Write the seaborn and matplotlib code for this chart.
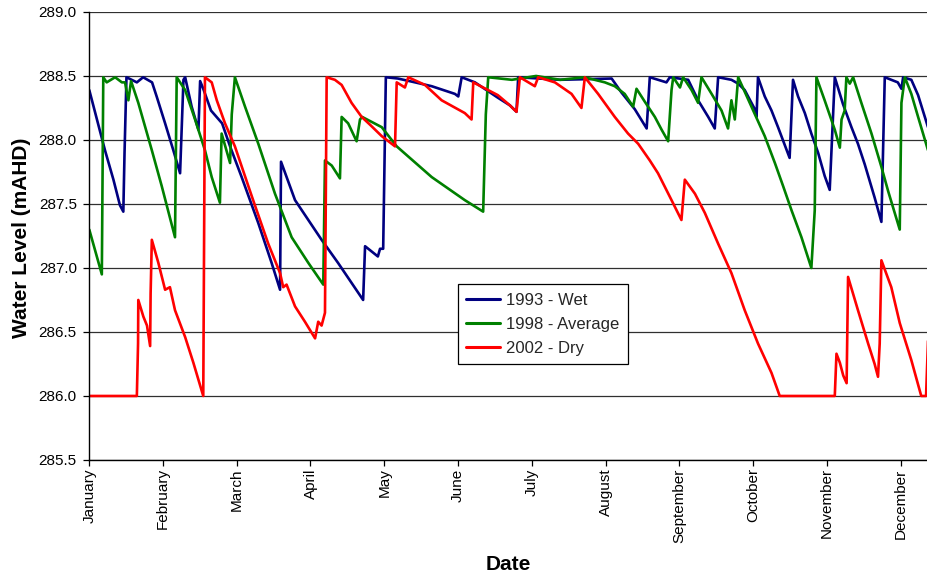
import matplotlib
matplotlib.use("Agg")
import matplotlib.pyplot as plt
import seaborn as sns
import pandas as pd

# ---- data (x = day of year, y = water level mAHD) ----
wet_days = [0, 6.5, 10.0, 12.7, 14.1, 14.6, 15.4, 19.7, 22.3, 26.0, 27.9, 31.4, 34.8, 37.6,
            39.0, 39.7, 42.4, 45.2, 45.9, 47.2, 50.4, 55.0, 58.3, 63.1, 70.0, 75.5, 79.0,
            79.4, 85.2, 96.2, 103.0, 113.4, 114.2, 119.5, 120.4, 121.7, 122.8, 127.8, 134.9,
            141.8, 151.4, 152.8, 154.2, 159.7, 169.2, 174.2, 176.9, 177.6, 194.9, 216.3,
            220.4, 225.9, 230.8, 232.1, 239.0, 240.4, 248.0, 252.1, 256.3, 259.0, 260.4,
            265.9, 268.7, 271.4, 275.6, 276.3, 276.9, 279.7, 282.5, 285.2, 290.0, 291.4,
            293.5, 296.3, 299.0, 301.8, 304.5, 306.6, 308.7, 312.1, 315.6, 318.3, 321.1,
            325.2, 328.0, 329.4, 334.8, 336.3, 337.0, 340.4, 343.2, 347.3]
wet_level = [288.39, 287.92, 287.69, 287.49, 287.44, 287.90, 288.49, 288.45, 288.49, 288.45,
             288.34, 288.13, 287.92, 287.74, 288.47, 288.49, 288.26, 288.08, 288.46, 288.40,
             288.23, 288.13, 287.95, 287.71, 287.35, 287.04, 286.83, 287.83, 287.53, 287.22,
             287.04, 286.75, 287.17, 287.09, 287.15, 287.15, 288.49, 288.48, 288.45, 288.42,
             288.36, 288.34, 288.49, 288.45, 288.33, 288.27, 288.22, 288.49, 288.47, 288.48,
             288.37, 288.24, 288.09, 288.49, 288.45, 288.49, 288.47, 288.31, 288.18, 288.09,
             288.49, 288.47, 288.44, 288.39, 288.24, 288.18, 288.49, 288.34, 288.23, 288.10,
             287.86, 288.47, 288.34, 288.21, 288.05, 287.90, 287.72, 287.61, 288.49, 288.28,
             288.10, 287.97, 287.81, 287.55, 287.36, 288.49, 288.45, 288.40, 288.49, 288.47,
             288.35, 288.10]

avg_days = [0, 5.2, 5.8, 7.2, 10.7, 13.5, 14.8, 16.2, 17.3, 20.3, 25.9, 30.0, 35.5, 36.2,
            39.7, 43.8, 47.9, 50.7, 54.1, 54.8, 58.3, 59.0, 60.3, 64.5, 70.0, 76.9, 83.8,
            90.7, 96.9, 97.6, 100.4, 103.8, 104.5, 107.2, 110.7, 112.1, 113.0, 121.1, 127.3,
            141.8, 155.5, 163.1, 164.2, 165.2, 175.0, 185.0, 195.0, 205.0, 213.5, 217.6,
            221.7, 225.2, 226.6, 230.0, 234.2, 237.0, 239.7, 241.1, 241.8, 244.6, 245.9,
            249.4, 252.1, 253.5, 257.7, 261.8, 264.5, 265.9, 267.3, 268.7, 274.2, 279.7,
            283.9, 287.3, 290.8, 294.9, 299.0, 300.4, 301.1, 304.5, 308.7, 310.8, 311.5,
            312.8, 313.5, 314.9, 316.3, 319.7, 323.9, 328.0, 330.8, 335.6, 336.3, 337.7,
            340.4, 343.2, 347.3]
avg_level = [287.30, 286.95, 288.49, 288.45, 288.49, 288.45, 288.45, 288.31, 288.46, 288.29,
             287.92, 287.64, 287.24, 288.49, 288.39, 288.16, 287.92, 287.71, 287.51, 288.05,
             287.82, 288.20, 288.49, 288.26, 287.97, 287.58, 287.24, 287.04, 286.87, 287.84,
             287.80, 287.70, 288.18, 288.13, 287.99, 288.16, 288.18, 288.10, 287.95, 287.71,
             287.53, 287.44, 288.20, 288.49, 288.47, 288.50, 288.47, 288.49, 288.45, 288.42,
             288.36, 288.26, 288.40, 288.30, 288.18, 288.08, 287.99, 288.39, 288.49, 288.41,
             288.49, 288.39, 288.29, 288.49, 288.36, 288.23, 288.09, 288.31, 288.16, 288.49,
             288.26, 288.03, 287.82, 287.64, 287.45, 287.24, 287.00, 287.45, 288.49, 288.31,
             288.08, 287.94, 288.16, 288.23, 288.49, 288.44, 288.49, 288.29, 288.05, 287.79,
             287.60, 287.30, 288.29, 288.49, 288.36, 288.18, 287.92]

dry_days = [0, 19.7, 20.2, 20.3, 22.4, 23.9, 25.2, 25.4, 25.9, 28.6, 31.4, 33.4, 35.5, 39.7,
            43.1, 47.2, 47.9, 50.7, 52.8, 56.2, 60.3, 67.3, 74.1, 79.0, 80.3, 81.7, 85.2,
            89.3, 93.5, 94.8, 96.2, 97.6, 98.3, 101.7, 104.5, 108.6, 112.8, 116.2, 121.1,
            126.6, 127.3, 130.7, 132.1, 139.0, 145.9, 155.5, 158.3, 159.0, 169.2, 174.2,
            176.9, 178.3, 184.5, 185.9, 192.8, 199.7, 203.8, 205.2, 210.7, 217.6, 223.1,
            227.3, 232.1, 235.5, 241.1, 245.2, 246.6, 250.8, 254.9, 260.4, 265.9, 271.4,
            276.9, 282.5, 285.9, 308.7, 309.4, 310.8, 312.2, 313.6, 314.2, 318.3, 322.5,
            325.2, 326.6, 327.3, 328.0, 332.1, 335.6, 340.4, 344.5, 346.5, 347.3]
dry_level = [286.00, 286.00, 286.41, 286.75, 286.62, 286.55, 286.39, 286.80, 287.22, 287.04,
             286.83, 286.85, 286.67, 286.46, 286.26, 286.00, 288.49, 288.45, 288.31, 288.13,
             287.95, 287.56, 287.19, 286.96, 286.85, 286.87, 286.70, 286.58, 286.45, 286.58,
             286.55, 286.65, 288.49, 288.47, 288.43, 288.29, 288.18, 288.12, 288.03, 287.95,
             288.45, 288.41, 288.49, 288.43, 288.31, 288.21, 288.16, 288.45, 288.35, 288.27,
             288.22, 288.49, 288.42, 288.49, 288.45, 288.36, 288.25, 288.49, 288.36, 288.18,
             288.05, 287.97, 287.84, 287.74, 287.53, 287.375, 287.69, 287.58, 287.43, 287.19,
             286.96, 286.67, 286.41, 286.18, 286.00, 286.00, 286.33, 286.26, 286.16, 286.10,
             286.93, 286.67, 286.41, 286.25, 286.15, 286.41, 287.06, 286.85, 286.57, 286.28,
             286.00, 286.00, 286.43]

series_names = ["1993 - Wet", "1998 - Average", "2002 - Dry"]
series_colors = ["#000080", "#008000", "#FF0000"]

month_labels = ["January", "February", "March", "April", "May", "June", "July",
                "August", "September", "October", "November", "December"]
month_ticks = [0, 30.5, 61.1, 91.6, 122.2, 152.7, 183.3, 213.8, 244.4, 274.9, 305.5, 336.0]
y_ticks = [285.5, 286.0, 286.5, 287.0, 287.5, 288.0, 288.5, 289.0]

# ---- build long-form table ----
frames = []
for name, d, v in zip(series_names, [wet_days, avg_days, dry_days],
                      [wet_level, avg_level, dry_level]):
    frames.append(pd.DataFrame({"Date": d, "Level": v, "Series": name}))
df = pd.concat(frames, ignore_index=True)

sns.set_theme(style="white")
plt.rcParams["font.family"] = ["Liberation Sans", "DejaVu Sans"]

fig = plt.figure(figsize=(9.28, 5.78), dpi=100)
ax = fig.add_axes([0.0962, 0.2042, 0.9038, 0.7751])

# horizontal gridlines
for yv in y_ticks:
    ax.axhline(yv, color="#303030", lw=0.9, zorder=0)

sns.lineplot(data=df, x="Date", y="Level", hue="Series", hue_order=series_names,
             palette=dict(zip(series_names, series_colors)), sort=False,
             estimator=None, linewidth=1.9, ax=ax, legend=True)

ax.set_xlim(0, 347.3)
ax.set_ylim(285.5, 289.0)
ax.set_yticks(y_ticks)
ax.set_yticklabels([f"{t:.1f}" for t in y_ticks], fontsize=11, color="#000000")
ax.set_xticks(month_ticks)
ax.set_xticklabels(month_labels, rotation=90, fontsize=11, color="#000000")
ax.tick_params(axis="both", which="major", direction="out", length=4, width=0.9,
               color="black", left=True, bottom=True, pad=2)
ax.tick_params(axis="y", pad=5)

for side in ["right", "top"]:
    ax.spines[side].set_visible(False)
for side in ["left", "bottom"]:
    ax.spines[side].set_color("black")
    ax.spines[side].set_linewidth(1.0)

ax.set_ylabel("Water Level (mAHD)", fontsize=15, fontweight="bold", color="black")
ax.set_xlabel("Date", fontsize=15, fontweight="bold", color="black")
ax.yaxis.set_label_coords(-0.069, 0.497)
ax.xaxis.set_label_coords(0.5, -0.213)

leg = ax.legend(loc="center", bbox_to_anchor=(0.541, 0.303), fontsize=12,
                frameon=True, fancybox=False, edgecolor="black", framealpha=1,
                handlelength=2.0, borderpad=0.5, labelspacing=0.55, handletextpad=0.4)
leg.get_frame().set_linewidth(0.9)
for line in leg.get_lines():
    line.set_linewidth(2.2)

fig.savefig("out.png", dpi=100)
